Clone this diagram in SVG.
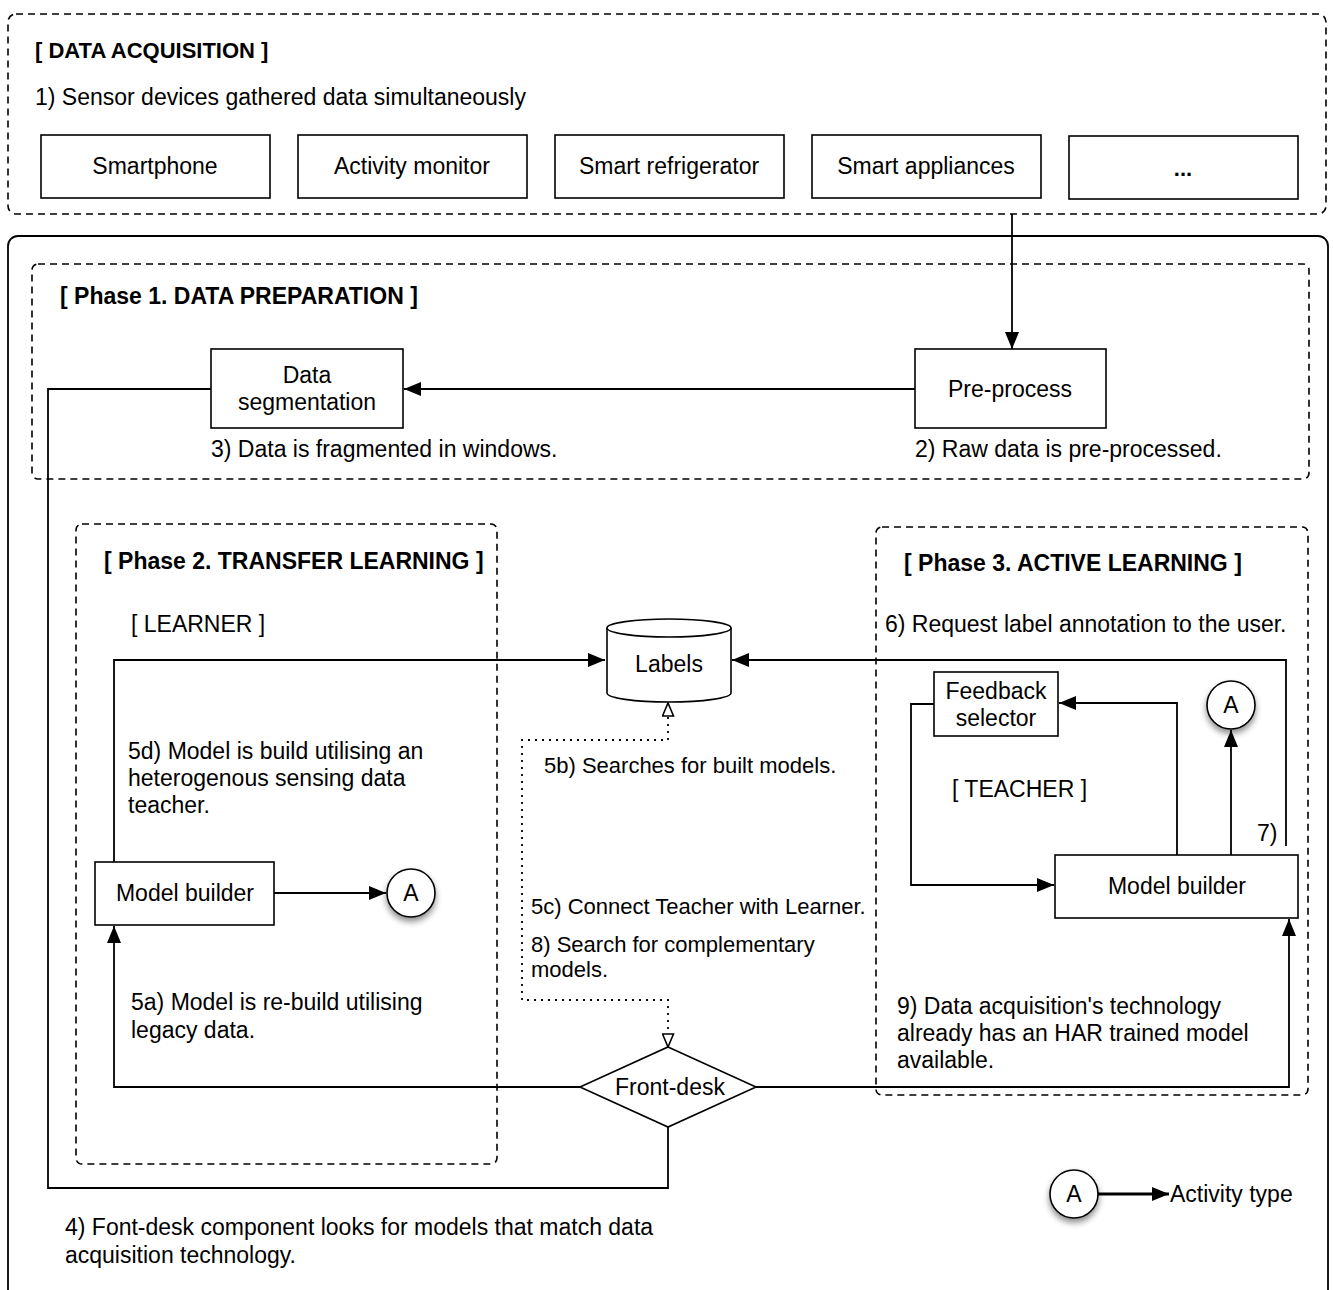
<svg xmlns="http://www.w3.org/2000/svg" width="1333" height="1290" viewBox="0 0 1333 1290">
<style>
text{font-family:"Liberation Sans",Arial,Helvetica,sans-serif;font-size:23px;fill:#000}
.b{font-weight:bold;font-size:22px}
.p{font-weight:bold;font-size:23px}
.s{font-size:22px}
.m{text-anchor:middle}
.box{fill:#fff;stroke:#000;stroke-width:1.6}
.dash{fill:none;stroke:#000;stroke-width:1.6;stroke-dasharray:7 5}
.solid{fill:none;stroke:#000;stroke-width:1.8}
.ln{fill:none;stroke:#000;stroke-width:1.8}
.dot{fill:none;stroke:#000;stroke-width:1.8;stroke-dasharray:2 5}
</style>
<defs>
<marker id="ar" viewBox="0 0 17 14" refX="17" refY="7" markerWidth="17" markerHeight="14" markerUnits="userSpaceOnUse" orient="auto-start-reverse"><path d="M0,0 L17,7 L0,14 Z" fill="#000"/></marker>
<marker id="ho" viewBox="0 0 15 13" refX="14" refY="6.5" markerWidth="15" markerHeight="13" markerUnits="userSpaceOnUse" orient="auto-start-reverse"><path d="M1,1 L14,6.5 L1,12 Z" fill="#fff" stroke="#000" stroke-width="1.6"/></marker>
<filter id="sh" x="-40%" y="-40%" width="180%" height="190%"><feDropShadow dx="0" dy="4" stdDeviation="3" flood-color="#000" flood-opacity="0.45"/></filter>
</defs>

<g id="data-acquisition">
<rect class="dash" x="8" y="14" width="1318" height="200" rx="8"/>
<text class="b" x="35" y="58">[ DATA ACQUISITION ]</text>
<text x="35" y="105">1) Sensor devices gathered data simultaneously</text>
</g>
<g id="smartphone"><rect class="box" x="41" y="135" width="229" height="63"/><text class="m" x="155" y="174">Smartphone</text></g>
<g id="activity-monitor"><rect class="box" x="298" y="135" width="229" height="63"/><text class="m" x="412" y="174">Activity monitor</text></g>
<g id="smart-refrigerator"><rect class="box" x="555" y="135" width="229" height="63"/><text class="m" x="669" y="174">Smart refrigerator</text></g>
<g id="smart-appliances"><rect class="box" x="812" y="135" width="229" height="63"/><text class="m" x="926" y="174">Smart appliances</text></g>
<g id="more-devices"><rect class="box" x="1069" y="136" width="229" height="63"/><text class="m b" x="1183" y="176">...</text></g>

<g id="main-frame"><rect class="solid" x="8" y="236" width="1320" height="1075" rx="10"/></g>

<g id="phase1">
<rect class="dash" x="32" y="264" width="1277" height="215" rx="6"/>
<text class="p" x="60" y="304">[ Phase 1. DATA PREPARATION ]</text>
<text x="211" y="457">3) Data is fragmented in windows.</text>
<text x="915" y="457">2) Raw data is pre-processed.</text>
</g>
<g id="data-segmentation"><rect class="box" x="211" y="349" width="192" height="79"/><text class="m" x="307" y="383">Data</text><text class="m" x="307" y="410">segmentation</text></g>
<g id="pre-process"><rect class="box" x="915" y="349" width="191" height="79"/><text class="m" x="1010" y="397">Pre-process</text></g>

<g id="phase2">
<rect class="dash" x="76" y="524" width="421" height="640" rx="6"/>
<text class="p" x="104" y="569">[ Phase 2. TRANSFER LEARNING ]</text>
<text x="131" y="632">[ LEARNER ]</text>
<text x="128" y="759">5d) Model is build utilising an</text>
<text x="128" y="786">heterogenous sensing data</text>
<text x="128" y="813">teacher.</text>
<text x="131" y="1010">5a) Model is re-build utilising</text>
<text x="131" y="1038">legacy data.</text>
</g>
<g id="phase3">
<rect class="dash" x="876" y="527" width="432" height="568" rx="6"/>
<text class="p" x="904" y="571">[ Phase 3. ACTIVE LEARNING ]</text>
<text x="885" y="632">6) Request label annotation to the user.</text>
<text x="952" y="797">[ TEACHER ]</text>
<text x="1257" y="841">7)</text>
<text x="897" y="1014">9) Data acquisition's technology</text>
<text x="897" y="1041">already has an HAR trained model</text>
<text x="897" y="1068">available.</text>
</g>

<g id="labels">
<path class="box" d="M607,628 A62,9 0 0 1 731,628 L731,693 A62,9 0 0 1 607,693 Z"/>
<path class="ln" style="stroke-width:1.6" d="M607,628 A62,9 0 0 0 731,628"/>
<text class="m" x="669" y="672">Labels</text>
</g>
<g id="model-builder-learner"><rect class="box" x="95" y="862" width="179" height="63"/><text class="m" x="185" y="901">Model builder</text></g>
<g id="activity-a1"><circle cx="411" cy="893" r="24" fill="#fff" stroke="#000" stroke-width="1.6" filter="url(#sh)"/><text class="m" x="411" y="901">A</text></g>
<g id="feedback-selector"><rect class="box" x="934" y="672" width="124" height="64"/><text class="m" x="996" y="699">Feedback</text><text class="m" x="996" y="726">selector</text></g>
<g id="activity-a2"><circle cx="1231" cy="705" r="24" fill="#fff" stroke="#000" stroke-width="1.6" filter="url(#sh)"/><text class="m" x="1231" y="713">A</text></g>
<g id="model-builder-teacher"><rect class="box" x="1055" y="855" width="243" height="63"/><text class="m" x="1177" y="894">Model builder</text></g>
<g id="front-desk"><polygon class="box" points="668,1047 756,1087 668,1127 580,1087"/><text class="m" x="670" y="1095">Front-desk</text></g>

<g id="notes">
<text class="s" x="544" y="773">5b) Searches for built models.</text>
<text class="s" x="531" y="914">5c) Connect Teacher with Learner.</text>
<text class="s" x="531" y="952">8) Search for complementary</text>
<text class="s" x="531" y="977">models.</text>
<text x="65" y="1235">4) Font-desk component looks for models that match data</text>
<text x="65" y="1263">acquisition technology.</text>
</g>

<g id="legend">
<circle cx="1074" cy="1194" r="24" fill="#fff" stroke="#000" stroke-width="1.6" filter="url(#sh)"/>
<text class="m" x="1074" y="1202">A</text>
<path class="ln" style="stroke-width:3" d="M1098,1194 L1169,1194" marker-end="url(#ar)"/>
<text x="1170" y="1202">Activity type</text>
</g>

<g id="connectors">
<path class="ln" d="M1012,214 L1012,349" marker-end="url(#ar)"/>
<path class="ln" d="M915,389 L404,389" marker-end="url(#ar)"/>
<path class="ln" d="M211,389 L48,389 L48,1188 L668,1188 L668,1127"/>
<path class="ln" d="M114,862 L114,660 L605,660" marker-end="url(#ar)"/>
<path class="ln" d="M274,893 L386,893" marker-end="url(#ar)"/>
<path class="ln" d="M580,1087 L114,1087 L114,926" marker-end="url(#ar)"/>
<path class="ln" d="M756,1087 L1289,1087 L1289,919" marker-end="url(#ar)"/>
<path class="ln" d="M1286,846 L1286,660 L732,660" marker-end="url(#ar)"/>
<path class="ln" d="M1177,855 L1177,703 L1059,703" marker-end="url(#ar)"/>
<path class="ln" d="M934,704 L911,704 L911,885 L1054,885" marker-end="url(#ar)"/>
<path class="ln" d="M1231,855 L1231,730" marker-end="url(#ar)"/>
<path class="dot" d="M668,703 L668,740 L522,740 L522,1000 L668,1000 L668,1047" marker-start="url(#ho)" marker-end="url(#ho)"/>
</g>
</svg>
